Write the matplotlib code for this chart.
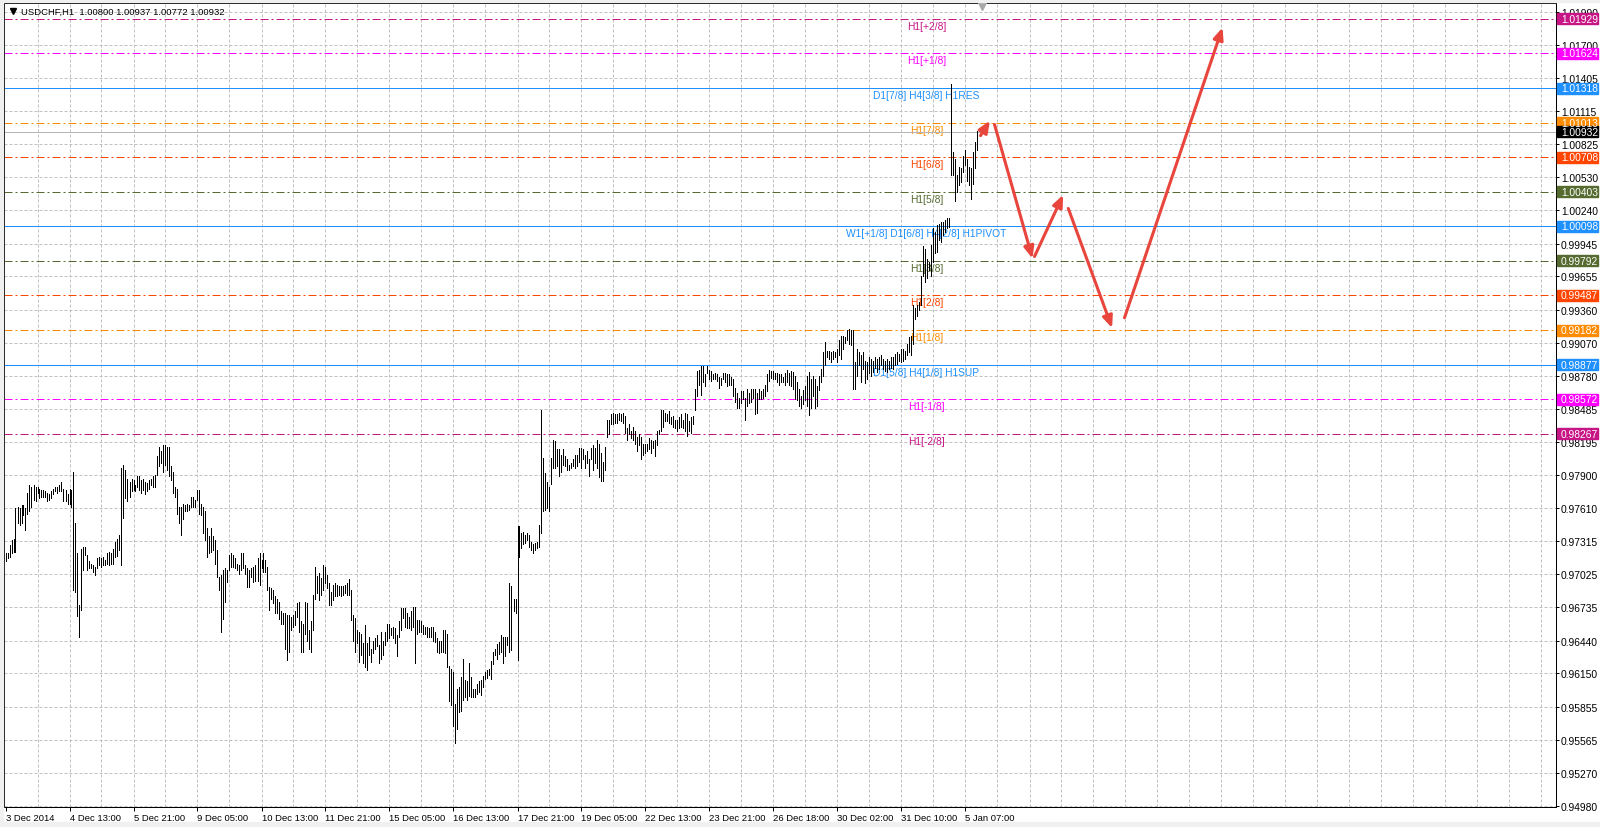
import matplotlib
matplotlib.use("Agg")
import matplotlib.pyplot as plt
from matplotlib import transforms
from matplotlib.patches import Rectangle
from matplotlib.lines import Line2D
import numpy as np

W, H, DPI = 1600, 828, 100

SYMBOL = "USDCHF,H1"
LAST_BAR = [1.00800, 1.00937, 1.00772, 1.00932]  # O H L C

# H1 bars (high / low)
HIGHS = [
    0.9721, 0.9721, 0.9728, 0.9733, 0.9734, 0.9761, 0.9762, 0.9761, 0.9764, 0.9764,
    0.9761, 0.9774, 0.9781, 0.9780, 0.9781, 0.9780, 0.9780, 0.9778, 0.9777, 0.9777,
    0.9776, 0.9774, 0.9773, 0.9776, 0.9778, 0.9780, 0.9780, 0.9781, 0.9784, 0.9778,
    0.9777, 0.9773, 0.9778, 0.9777, 0.9793, 0.9748, 0.9721, 0.9675, 0.9725, 0.9727,
    0.9727, 0.9720, 0.9714, 0.9712, 0.9711, 0.9709, 0.9717, 0.9718, 0.9717, 0.9718,
    0.9715, 0.9721, 0.9722, 0.9721, 0.9725, 0.9731, 0.9734, 0.9737, 0.9796, 0.9799,
    0.9795, 0.9787, 0.9784, 0.9787, 0.9786, 0.9781, 0.9789, 0.9789, 0.9786, 0.9787,
    0.9784, 0.9783, 0.9786, 0.9787, 0.9789, 0.9790, 0.9807, 0.9815, 0.9811, 0.9817,
    0.9817, 0.9815, 0.9815, 0.9798, 0.9793, 0.9780, 0.9778, 0.9762, 0.9762, 0.9765,
    0.9764, 0.9765, 0.9764, 0.9771, 0.9771, 0.9768, 0.9777, 0.9777, 0.9765, 0.9762,
    0.9758, 0.9743, 0.9736, 0.9743, 0.9736, 0.9733, 0.9724, 0.9700, 0.9702, 0.9706,
    0.9708, 0.9706, 0.9720, 0.9721, 0.9720, 0.9717, 0.9712, 0.9711, 0.9721, 0.9721,
    0.9711, 0.9708, 0.9706, 0.9708, 0.9709, 0.9711, 0.9717, 0.9721, 0.9715, 0.9721,
    0.9715, 0.9709, 0.9691, 0.9690, 0.9689, 0.9683, 0.9681, 0.9678, 0.9670, 0.9668,
    0.9668, 0.9667, 0.9667, 0.9665, 0.9667, 0.9670, 0.9677, 0.9678, 0.9661, 0.9659,
    0.9678, 0.9677, 0.9653, 0.9661, 0.9684, 0.9709, 0.9701, 0.9704, 0.9699, 0.9711,
    0.9709, 0.9702, 0.9695, 0.9687, 0.9693, 0.9695, 0.9693, 0.9692, 0.9692, 0.9692,
    0.9693, 0.9695, 0.9698, 0.9689, 0.9667, 0.9664, 0.9653, 0.9652, 0.9650, 0.9642,
    0.9658, 0.9642, 0.9647, 0.9637, 0.9644, 0.9646, 0.9649, 0.9640, 0.9652, 0.9644,
    0.9652, 0.9659, 0.9659, 0.9655, 0.9656, 0.9655, 0.9649, 0.9661, 0.9673, 0.9673,
    0.9673, 0.9668, 0.9665, 0.9670, 0.9674, 0.9674, 0.9662, 0.9662, 0.9661, 0.9658,
    0.9656, 0.9656, 0.9655, 0.9656, 0.9656, 0.9652, 0.9646, 0.9644, 0.9644, 0.9653,
    0.9653, 0.9650, 0.9622, 0.9619, 0.9616, 0.9588, 0.9601, 0.9603, 0.9612, 0.9628,
    0.9609, 0.9608, 0.9624, 0.9612, 0.9601, 0.9601, 0.9606, 0.9608, 0.9609, 0.9613,
    0.9616, 0.9618, 0.9619, 0.9626, 0.9634, 0.9637, 0.9641, 0.9643, 0.9649, 0.9647,
    0.9647, 0.9647, 0.9695, 0.9692, 0.9681, 0.9681, 0.9745, 0.9745, 0.9739, 0.9740,
    0.9737, 0.9739, 0.9737, 0.9731, 0.9729, 0.9730, 0.9731, 0.9746, 0.9848, 0.9805,
    0.9792, 0.9784, 0.9780, 0.9805, 0.9821, 0.9820, 0.9813, 0.9813, 0.9808, 0.9813,
    0.9807, 0.9804, 0.9799, 0.9801, 0.9804, 0.9808, 0.9808, 0.9814, 0.9814, 0.9813,
    0.9808, 0.9811, 0.9804, 0.9814, 0.9817, 0.9814, 0.9821, 0.9818, 0.9810, 0.9802,
    0.9815, 0.9839, 0.9839, 0.9844, 0.9845, 0.9844, 0.9844, 0.9845, 0.9844, 0.9845,
    0.9842, 0.9832, 0.9835, 0.9829, 0.9833, 0.9829, 0.9824, 0.9826, 0.9824, 0.9818,
    0.9818, 0.9818, 0.9823, 0.9821, 0.9820, 0.9821, 0.9829, 0.9830, 0.9848, 0.9848,
    0.9845, 0.9844, 0.9847, 0.9841, 0.9842, 0.9839, 0.9839, 0.9841, 0.9844, 0.9839,
    0.9845, 0.9844, 0.9838, 0.9841, 0.9842, 0.9866, 0.9882, 0.9883, 0.9886, 0.9886,
    0.9879, 0.9886, 0.9883, 0.9882, 0.9879, 0.9880, 0.9879, 0.9877, 0.9876, 0.9880,
    0.9880, 0.9879, 0.9879, 0.9877, 0.9875, 0.9867, 0.9863, 0.9858, 0.9864, 0.9864,
    0.9858, 0.9866, 0.9863, 0.9866, 0.9866, 0.9866, 0.9863, 0.9866, 0.9864, 0.9866,
    0.9870, 0.9879, 0.9883, 0.9882, 0.9882, 0.9880, 0.9880, 0.9879, 0.9879, 0.9877,
    0.9880, 0.9883, 0.9880, 0.9882, 0.9881, 0.9878, 0.9872, 0.9866, 0.9860, 0.9865,
    0.9869, 0.9878, 0.9881, 0.9875, 0.9878, 0.9875, 0.9869, 0.9878, 0.9884, 0.9899,
    0.9908, 0.9900, 0.9900, 0.9899, 0.9900, 0.9899, 0.9901, 0.9909, 0.9913, 0.9913,
    0.9912, 0.9918, 0.9919, 0.9918, 0.9918, 0.9890, 0.9901, 0.9899, 0.9896, 0.9899,
    0.9891, 0.9890, 0.9894, 0.9893, 0.9891, 0.9894, 0.9893, 0.9894, 0.9896, 0.9893,
    0.9891, 0.9893, 0.9891, 0.9894, 0.9894, 0.9897, 0.9899, 0.9897, 0.9901, 0.9901,
    0.9900, 0.9906, 0.9912, 0.9913, 0.9940, 0.9938, 0.9940, 0.9943, 0.9966, 0.9992,
    0.9990, 0.9981, 0.9978, 0.9993, 1.0008, 1.0005, 1.0011, 1.0012, 1.0014, 1.0014,
    1.0015, 1.0017, 1.0017, 1.0135, 1.0075, 1.0069, 1.0055, 1.0062, 1.0061, 1.0072,
    1.0077, 1.0069, 1.0062, 1.0061, 1.0075, 1.0084, 1.0094,
]
LOWS = [
    0.9714, 0.9717, 0.9718, 0.9721, 0.9722, 0.9722, 0.9748, 0.9746, 0.9748, 0.9755,
    0.9742, 0.9756, 0.9758, 0.9762, 0.9768, 0.9767, 0.9774, 0.9770, 0.9771, 0.9771,
    0.9771, 0.9767, 0.9768, 0.9770, 0.9773, 0.9776, 0.9774, 0.9776, 0.9776, 0.9767,
    0.9767, 0.9765, 0.9765, 0.9762, 0.9689, 0.9687, 0.9666, 0.9647, 0.9671, 0.9706,
    0.9720, 0.9706, 0.9708, 0.9708, 0.9705, 0.9702, 0.9708, 0.9711, 0.9709, 0.9711,
    0.9711, 0.9712, 0.9711, 0.9712, 0.9712, 0.9718, 0.9719, 0.9724, 0.9711, 0.9752,
    0.9770, 0.9767, 0.9771, 0.9776, 0.9777, 0.9776, 0.9780, 0.9777, 0.9774, 0.9777,
    0.9773, 0.9776, 0.9778, 0.9781, 0.9780, 0.9780, 0.9790, 0.9798, 0.9801, 0.9793,
    0.9799, 0.9795, 0.9789, 0.9786, 0.9774, 0.9771, 0.9756, 0.9748, 0.9737, 0.9751,
    0.9758, 0.9758, 0.9759, 0.9762, 0.9762, 0.9762, 0.9768, 0.9756, 0.9755, 0.9739,
    0.9733, 0.9718, 0.9721, 0.9722, 0.9724, 0.9712, 0.9700, 0.9689, 0.9652, 0.9663,
    0.9678, 0.9696, 0.9706, 0.9709, 0.9709, 0.9708, 0.9706, 0.9703, 0.9706, 0.9708,
    0.9703, 0.9691, 0.9691, 0.9700, 0.9696, 0.9697, 0.9697, 0.9693, 0.9708, 0.9705,
    0.9705, 0.9689, 0.9671, 0.9681, 0.9677, 0.9668, 0.9668, 0.9663, 0.9659, 0.9659,
    0.9637, 0.9627, 0.9634, 0.9653, 0.9656, 0.9658, 0.9665, 0.9652, 0.9634, 0.9634,
    0.9650, 0.9644, 0.9637, 0.9634, 0.9653, 0.9681, 0.9686, 0.9680, 0.9684, 0.9689,
    0.9695, 0.9690, 0.9675, 0.9675, 0.9680, 0.9683, 0.9683, 0.9684, 0.9683, 0.9684,
    0.9686, 0.9684, 0.9684, 0.9662, 0.9644, 0.9634, 0.9642, 0.9625, 0.9631, 0.9624,
    0.9621, 0.9618, 0.9631, 0.9625, 0.9633, 0.9637, 0.9639, 0.9624, 0.9628, 0.9631,
    0.9640, 0.9644, 0.9646, 0.9649, 0.9646, 0.9642, 0.9630, 0.9647, 0.9653, 0.9664,
    0.9656, 0.9655, 0.9655, 0.9653, 0.9656, 0.9624, 0.9650, 0.9652, 0.9652, 0.9650,
    0.9650, 0.9647, 0.9647, 0.9647, 0.9644, 0.9643, 0.9634, 0.9633, 0.9634, 0.9634,
    0.9633, 0.9621, 0.9591, 0.9587, 0.9569, 0.9554, 0.9566, 0.9581, 0.9582, 0.9592,
    0.9594, 0.9592, 0.9595, 0.9594, 0.9594, 0.9594, 0.9597, 0.9599, 0.9596, 0.9603,
    0.9610, 0.9611, 0.9614, 0.9610, 0.9623, 0.9631, 0.9628, 0.9632, 0.9634, 0.9624,
    0.9630, 0.9640, 0.9634, 0.9636, 0.9670, 0.9668, 0.9627, 0.9718, 0.9726, 0.9729,
    0.9730, 0.9733, 0.9727, 0.9724, 0.9721, 0.9724, 0.9726, 0.9727, 0.9739, 0.9758,
    0.9759, 0.9761, 0.9758, 0.9782, 0.9796, 0.9796, 0.9798, 0.9789, 0.9793, 0.9799,
    0.9798, 0.9795, 0.9795, 0.9796, 0.9798, 0.9796, 0.9798, 0.9802, 0.9796, 0.9804,
    0.9796, 0.9801, 0.9789, 0.9804, 0.9795, 0.9801, 0.9796, 0.9788, 0.9785, 0.9785,
    0.9795, 0.9824, 0.9826, 0.9835, 0.9835, 0.9836, 0.9836, 0.9839, 0.9838, 0.9836,
    0.9827, 0.9821, 0.9826, 0.9823, 0.9821, 0.9818, 0.9811, 0.9817, 0.9804, 0.9808,
    0.9810, 0.9811, 0.9813, 0.9810, 0.9814, 0.9807, 0.9817, 0.9826, 0.9829, 0.9833,
    0.9838, 0.9838, 0.9836, 0.9835, 0.9833, 0.9832, 0.9829, 0.9832, 0.9833, 0.9832,
    0.9829, 0.9825, 0.9829, 0.9827, 0.9835, 0.9848, 0.9860, 0.9870, 0.9861, 0.9872,
    0.9869, 0.9880, 0.9875, 0.9873, 0.9875, 0.9875, 0.9873, 0.9867, 0.9870, 0.9875,
    0.9872, 0.9869, 0.9870, 0.9870, 0.9860, 0.9855, 0.9849, 0.9849, 0.9854, 0.9857,
    0.9839, 0.9851, 0.9854, 0.9855, 0.9858, 0.9844, 0.9845, 0.9857, 0.9857, 0.9858,
    0.9860, 0.9864, 0.9873, 0.9876, 0.9875, 0.9875, 0.9872, 0.9870, 0.9872, 0.9872,
    0.9870, 0.9872, 0.9870, 0.9869, 0.9866, 0.9857, 0.9856, 0.9851, 0.9849, 0.9853,
    0.9856, 0.9851, 0.9843, 0.9849, 0.9860, 0.9849, 0.9851, 0.9865, 0.9872, 0.9878,
    0.9887, 0.9894, 0.9893, 0.9890, 0.9893, 0.9894, 0.9890, 0.9896, 0.9893, 0.9901,
    0.9907, 0.9909, 0.9906, 0.9905, 0.9866, 0.9866, 0.9878, 0.9887, 0.9872, 0.9884,
    0.9871, 0.9875, 0.9880, 0.9878, 0.9881, 0.9885, 0.9881, 0.9884, 0.9887, 0.9884,
    0.9882, 0.9881, 0.9884, 0.9885, 0.9884, 0.9887, 0.9888, 0.9891, 0.9890, 0.9891,
    0.9893, 0.9896, 0.9899, 0.9896, 0.9906, 0.9928, 0.9931, 0.9936, 0.9940, 0.9966,
    0.9961, 0.9964, 0.9971, 0.9966, 0.9978, 0.9986, 0.9987, 0.9998, 0.9996, 1.0002,
    1.0005, 1.0008, 1.0009, 1.0055, 1.0055, 1.0032, 1.0040, 1.0046, 1.0049, 1.0058,
    1.0064, 1.0050, 1.0046, 1.0034, 1.0047, 1.0061, 1.0077,
]

DATE_LABELS = ["3 Dec 2014", "4 Dec 13:00", "5 Dec 21:00", "9 Dec 05:00", "10 Dec 13:00",
               "11 Dec 21:00", "15 Dec 05:00", "16 Dec 13:00", "17 Dec 21:00", "19 Dec 05:00",
               "22 Dec 13:00", "23 Dec 21:00", "26 Dec 18:00", "30 Dec 02:00", "31 Dec 10:00",
               "5 Jan 07:00"]
DATE_EVERY = 32  # bars between date labels

PRICE_TICKS = [1.01990, 1.01700, 1.01405, 1.01115, 1.00825, 1.00530, 1.00240, 0.99945,
               0.99655, 0.99360, 0.99070, 0.98780, 0.98485, 0.98195, 0.97900, 0.97610,
               0.97315, 0.97025, 0.96735, 0.96440, 0.96150, 0.95855, 0.95565, 0.95270,
               0.94980]

# murrey math levels
MM_PRICES = [1.01929, 1.01624, 1.01318, 1.01013, 1.00708, 1.00403, 1.00098,
             0.99792, 0.99487, 0.99182, 0.98877, 0.98572, 0.98267]
MM_LABELS = ["H1[+2/8]", "H1[+1/8]", "D1[7/8] H4[3/8] H1RES", "H1[7/8]", "H1[6/8]",
             "H1[5/8]", "W1[+1/8] D1[6/8] H4[2/8] H1PIVOT", "H1[3/8]", "H1[2/8]",
             "H1[1/8]", "D1[5/8] H4[1/8] H1SUP", "H1[-1/8]", "H1[-2/8]"]
MM_COLORS = ["#c71585", "#ff00ff", "#1e90ff", "#ff8c00", "#ff4500", "#556b2f", "#1e90ff",
             "#556b2f", "#ff4500", "#ff8c00", "#1e90ff", "#ff00ff", "#c71585"]
MM_SOLID = [False, False, True, False, False, False, True,
            False, False, False, True, False, False]
LABEL_BAR = 460.5

# hand drawn forecast arrows: (bar, price) start -> end
ARROWS = [((487.5, 1.00898), (492.2, 1.01030)),
          ((494.5, 1.00997), (513.5, 0.99814)),
          ((514.5, 0.99831), (528.8, 1.00374)),
          ((531.4, 1.00255), (553.3, 0.99200)),
          ((559.5, 0.99290), (608.5, 1.01852))]
ARROW_COLOR = "#e8453c"

GRID_COLOR = "#c0c0c0"
PX = 72.0 / DPI  # one pixel in points


def fx(px):
    return px / W


def fy(py):
    return 1 - py / H


plt.rcParams["font.family"] = ["Liberation Sans", "DejaVu Sans"]

fig = plt.figure(figsize=(W / DPI, H / DPI), dpi=DPI, facecolor="white")
AX_L, AX_R, AX_T, AX_B = 4, 1556, 4, 808
ax = fig.add_axes([fx(AX_L), fy(AX_B), fx(AX_R - AX_L), (AX_B - AX_T) / H])
ax.set_xlim(-0.75, -0.75 + (AX_R - AX_L) / 2)
ax.set_ylim(0.94971, 1.02069)
price_per_px = (1.02069 - 0.94971) / (AX_B - AX_T)

# frame strips of the terminal window
for rect in [(0, 0, 1, 5 / H), (0, fy(3), 1, 3 / H), (0, 0, fx(3), 1)]:
    fig.patches.append(Rectangle(rect[:2], rect[2], rect[3], transform=fig.transFigure,
                                 color="#f0f0f0", zorder=0))

# grid
for p in PRICE_TICKS:
    ax.axhline(p, color=GRID_COLOR, lw=PX, ls=(0, (3, 2)), zorder=0.5)
for i in range(16, 776, 16):
    ax.axvline(i, color=GRID_COLOR, lw=PX, ls=(0, (3, 2)), zorder=0.5)

# levels
for p, lab, c, solid in zip(MM_PRICES, MM_LABELS, MM_COLORS, MM_SOLID):
    ax.axhline(p, color=c, lw=PX, ls="-" if solid else (0, (8, 3, 2, 3)), zorder=2)
    ax.annotate(lab, (LABEL_BAR, p), xytext=(0, -7 * PX), textcoords="offset points",
                ha="center", va="center", color=c, fontsize=7.4, zorder=1.5)

ax.axhline(LAST_BAR[3], color="#b4b4b4", lw=PX, zorder=1.8)

# bars
idx = np.arange(len(HIGHS))
ax.vlines(idx, LOWS, HIGHS, colors="black", lw=PX, zorder=3, antialiased=False)

# arrows
for (x0, y0), (x1, y1) in ARROWS:
    ax.annotate("", xy=(x1, y1), xytext=(x0, y0), zorder=7,
                arrowprops=dict(arrowstyle="-|>,head_length=0.7,head_width=0.3",
                                color=ARROW_COLOR, lw=2.2, shrinkA=0, shrinkB=0,
                                mutation_scale=10))

# axes look
for s in ax.spines.values():
    s.set_color("black")
    s.set_linewidth(PX)
ax.yaxis.tick_right()
ax.set_yticks(PRICE_TICKS)
ax.set_yticklabels([f"{p:.5f}" for p in PRICE_TICKS])
ax.tick_params(axis="y", direction="out", length=3 * PX, width=PX, pad=2 * PX,
               labelsize=7.4, colors="black")
ax.set_xticks([k * DATE_EVERY for k in range(len(DATE_LABELS))])
ax.set_xticklabels(DATE_LABELS, ha="left")
ax.tick_params(axis="x", direction="out", length=4 * PX, width=PX, pad=1.5,
               labelsize=6.8, colors="black")

# price tags on the right
trans = transforms.blended_transform_factory(fig.transFigure, ax.transData)
box_h = 11 * price_per_px
tags = list(zip(MM_PRICES, MM_COLORS)) + [(LAST_BAR[3], "black")]
for p, c in tags:
    ax.add_patch(Rectangle((fx(1557), p - box_h / 2), fx(41), box_h, transform=trans,
                           color=c, clip_on=False, zorder=5))
    ax.text(fx(1561), p, f"{p:.5f}", transform=trans, color="white", fontsize=7.4,
            va="center", ha="left", zorder=6, clip_on=False)

# header
fig.add_artist(Line2D([fx(13)], [fy(12)], marker="v", color="black", markersize=4.5,
                      transform=fig.transFigure))
fig.text(fx(21), fy(12.3), f"{SYMBOL}  " + " ".join(f"{v:.5f}" for v in LAST_BAR),
         fontsize=6.8, va="center", ha="left")

# chart shift marker
shift_tr = transforms.blended_transform_factory(ax.transData, fig.transFigure)
ax.plot([len(HIGHS) + 1.5], [fy(6)], marker="v", color="#a8a8a8", markersize=7,
        transform=shift_tr, clip_on=False, zorder=8)

fig.savefig("out.png", dpi=DPI)
